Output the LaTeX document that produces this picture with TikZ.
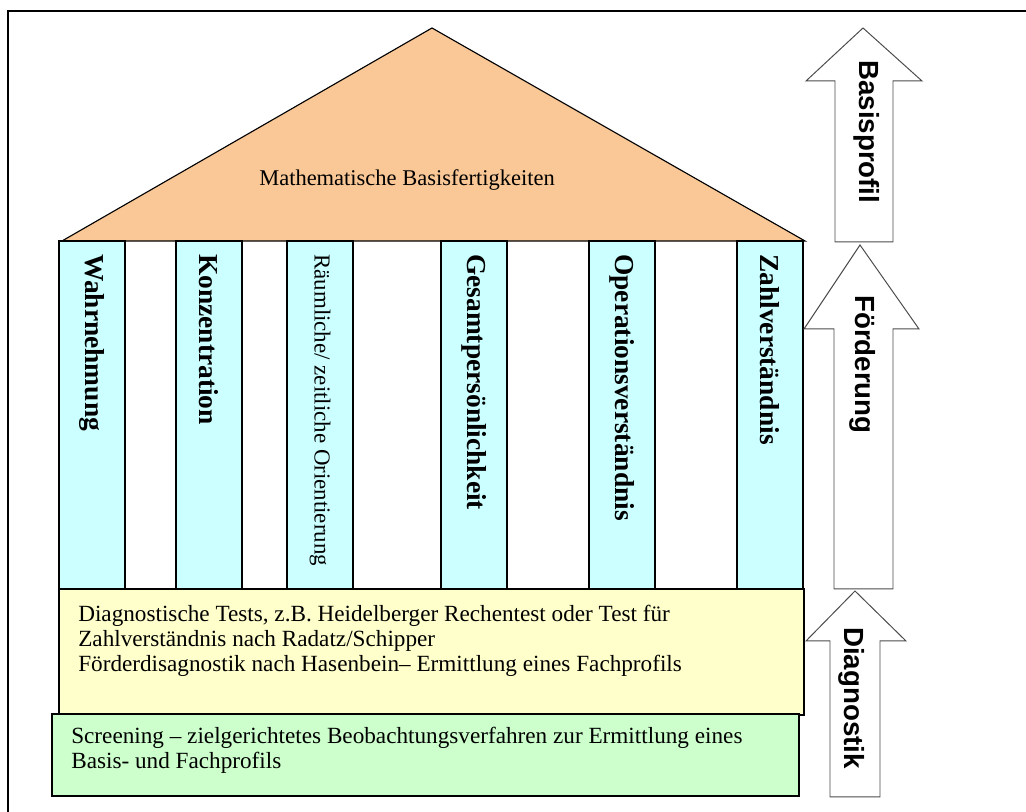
\documentclass[tikz,border=0pt]{standalone}
\usepackage{fontspec}
\setmainfont{Liberation Serif}
\setsansfont{Liberation Sans}
\definecolor{roofcol}{RGB}{250,200,150}
\definecolor{pillarcol}{RGB}{204,255,255}
\definecolor{testcol}{RGB}{255,255,204}
\definecolor{screencol}{RGB}{204,255,204}
\begin{document}
\begin{tikzpicture}[
  pillarbox/.style={draw,fill=pillarcol,line width=0.9pt},
  pillarlabel/.style={rotate=-90,anchor=west,inner sep=0pt,font=\fontsize{19.5}{22}\selectfont\bfseries},
  uparrow/.style={draw=black!70,fill=white,line width=0.7pt},
  arrowlabel/.style={rotate=-90,anchor=west,inner sep=0pt,font=\fontsize{19.7}{22}\sffamily\bfseries},
  boxtext/.style={anchor=north west,align=left,inner sep=0pt,font=\fontsize{16.5}{17.7}\selectfont}
]
\useasboundingbox (0,0) rectangle (25.65,20.3);
\fill[white] (0,0) rectangle (25.65,20.3);
\draw[line width=1.4pt] (0.2,-1) -- (0.2,20.025) -- (27,20.025);
\draw[fill=roofcol,line width=0.8pt] (1.55,14.275) -- (10.8,19.6) -- (20.125,14.275) -- cycle;
\node (roof) at (10.175,15.8) {\fontsize{16}{19}\selectfont Mathematische Basisfertigkeiten};
\foreach \x/\name/\txt in {1.475/wahr/Wahrnehmung, 4.4/konz/Konzentration, 11.025/gesamt/Gesamtpersönlichkeit, 14.725/oper/Operationsverständnis, 18.425/zahl/Zahlverständnis} {
  \draw[pillarbox] (\x,5.575) rectangle ++(1.65,8.7);
  \node[pillarlabel] (\name) at (\x+0.825,13.95) {\txt};
}
\draw[pillarbox] (7.175,5.575) rectangle ++(1.65,8.7);
\node[pillarlabel,font=\fontsize{16.3}{19}\selectfont] (raum) at (8.0,13.95) {Räumliche/ zeitliche Orientierung};
\draw[fill=testcol,line width=0.9pt] (1.475,2.425) rectangle (20.1,5.575);
\node[boxtext] (tests) at (1.95,5.17) {Diagnostische Tests, z.B. Heidelberger Rechentest oder Test für\\Zahlverständnis nach Radatz/Schipper\\Förderdisagnostik nach Hasenbein– Ermittlung eines Fachprofils};
\draw[fill=screencol,line width=0.9pt] (1.3,0.4) rectangle (19.975,2.45);
\node[boxtext] (screening) at (1.775,2.12) {Screening – zielgerichtetes Beobachtungsverfahren zur Ermittlung eines\\Basis- und Fachprofils};
\draw[uparrow] (20.875,14.25) -- (20.875,18.275) -- (20.15,18.275) -- (21.575,19.6) -- (23.05,18.275) -- (22.325,18.275) -- (22.325,14.25) -- cycle;
\draw[uparrow] (20.85,5.575) -- (20.85,12.075) -- (20.1,12.075) -- (21.5,14.175) -- (22.975,12.075) -- (22.325,12.075) -- (22.325,5.575) -- cycle;
\draw[uparrow] (20.75,0.375) -- (20.75,4.275) -- (20.15,4.275) -- (21.375,5.525) -- (22.65,4.275) -- (22.0,4.275) -- (22.0,0.375) -- cycle;
\node[arrowlabel] (basis) at (21.675,18.8) {Basisprofil};
\node[arrowlabel] (foerd) at (21.575,12.925) {Förderung};
\node[arrowlabel] (diag) at (21.3,4.625) {Diagnostik};
\end{tikzpicture}
\end{document}
